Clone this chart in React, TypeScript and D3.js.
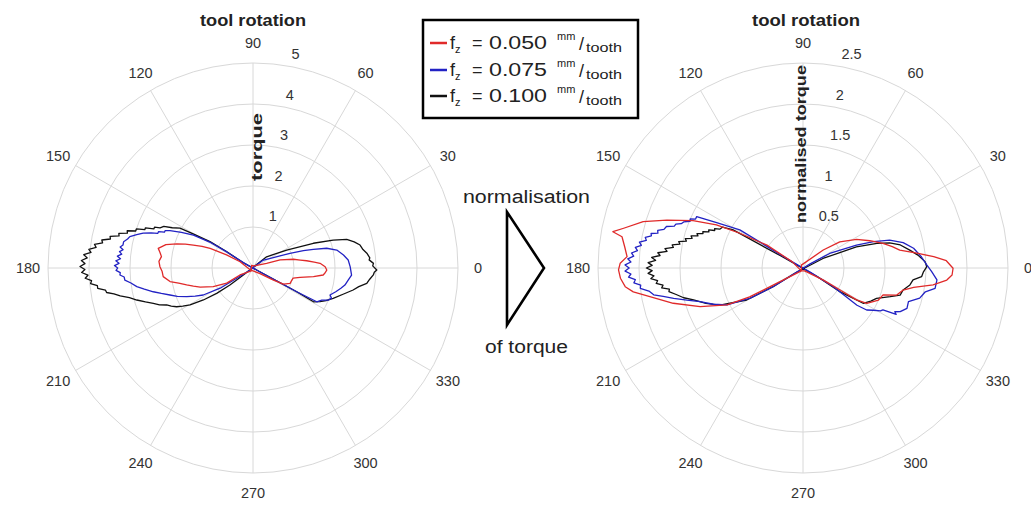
import React from "react";
import * as d3 from "d3";

type P = [number, number];

const ANGLE_TICKS = [0, 30, 60, 90, 120, 150, 180, 210, 240, 270, 300, 330];
const LEFT_RINGS = [1, 2, 3, 4, 5];
const LEFT_RING_LABELS = ["1", "2", "3", "4", "5"];
const RIGHT_RINGS = [0.5, 1, 1.5, 2, 2.5];
const RIGHT_RING_LABELS = ["0.5", "1", "1.5", "2", "2.5"];

const SERIES_NAMES = ["0.050", "0.075", "0.100"];
const SERIES_COLORS = ["#e02a2a", "#2222c4", "#111111"];

// torque [angle deg, torque]
const torque050: P[] = [
  [60, 0.06], [18.9, 0.35], [16.5, 0.69], [12.2, 1.01], [9.5, 1.17], [7.7, 1.32], [5.5, 1.5], [4, 1.64], [1, 1.76],
  [-1.6, 1.8], [-4, 1.76], [-5.7, 1.72], [-8.2, 1.49], [-11.2, 1.17], [-14.3, 1.01], [-18, 0.99], [-22.5, 0.98],
  [-27.8, 0.84], [-30.6, 0.58], [-39, 0.22], [-90, 0.07], [-140, 0.08],
  [154, 0.35], [153.7, 0.72], [155.4, 1.15], [157, 1.35], [159, 1.56], [160.5, 1.75], [162.5, 1.95], [165, 2.2],
  [168.3, 2.36], [170.5, 2.3], [172.9, 2.25], [176, 2.3], [179.2, 2.27], [182, 2.22], [185.5, 2.2], [189.3, 2.05],
  [191.5, 1.85], [194.3, 1.67], [197, 1.52], [200, 1.37], [205, 1.07], [210, 0.74], [208, 0.36], [240, 0.08], [120, 0.07],
];
const torque075: P[] = [
  [38, 0.3], [21.7, 0.97], [19, 1.3], [17.2, 1.54], [15, 1.86], [12.1, 2.09], [8.2, 2.23], [4.8, 2.33], [0.8, 2.37],
  [-4.1, 2.41], [-7.2, 2.34], [-10.5, 2.28], [-13, 2.2], [-16, 2.1], [-19.3, 1.99], [-21, 2.05], [-23, 2.0], [-25, 1.85],
  [-27.9, 1.76], [-28.5, 1.2], [-28.5, 0.6], [-29, 0.15],
  [151, 0.27], [148.5, 0.75], [149, 1.23], [151.1, 1.66], [153.5, 1.95], [155.8, 2.22], [157, 2.33], [158, 2.33], [159, 2.47],
  [160, 2.47], [161, 2.63], [162.4, 2.81], [164, 2.95], [165.7, 3.1], [167, 3.14], [168.5, 3.22], [170, 3.22], [171, 3.28],
  [172, 3.2], [173, 3.28], [174, 3.22], [175, 3.32], [176, 3.24], [177, 3.35], [178, 3.27], [179, 3.38], [180, 3.3],
  [181, 3.34], [182, 3.24], [183, 3.25], [184, 3.15], [185.4, 3.14], [187, 3.0], [189.1, 2.87], [191, 2.7], [193.4, 2.5],
  [195.5, 2.32], [198, 2.13], [200.5, 1.97], [203.4, 1.76], [206, 1.57], [208.5, 1.38], [211.6, 0.94], [212.3, 0.47], [214, 0.15],
];
const torque100: P[] = [
  [39.5, 0.43], [28, 0.93], [22.3, 1.59], [19.2, 2.07], [17, 2.39], [14.5, 2.55], [12.1, 2.67], [9.5, 2.72], [7.4, 2.8],
  [5, 2.86], [4, 2.84], [2.2, 2.94], [1, 2.92], [-0.9, 3.02], [-2, 2.96], [-3.3, 2.94], [-5.5, 2.86], [-7.7, 2.8], [-10, 2.62],
  [-12.4, 2.5], [-16, 2.3], [-20.7, 2.09], [-24, 1.95], [-26.7, 1.83], [-29.2, 1.69], [-28.5, 1.2], [-28.5, 0.6], [-29, 0.15],
  [151.4, 0.27], [148.2, 0.75], [148.5, 1.23], [150.3, 1.68], [151.3, 2.03], [153.5, 2.2], [155, 2.4], [156.6, 2.47],
  [157.5, 2.6], [158.5, 2.6], [159.5, 2.8], [160.5, 2.8], [161.5, 3.0], [162.5, 3.0], [163.5, 3.2], [164.5, 3.18],
  [165.5, 3.38], [166.5, 3.36], [167.5, 3.57], [168.5, 3.55], [169.5, 3.75], [170.5, 3.72], [171.5, 3.91], [172.5, 3.86],
  [173.5, 4.03], [174.5, 3.97], [175.5, 4.14], [176.5, 4.05], [177.5, 4.19], [178.5, 4.1], [179.5, 4.22], [180.5, 4.1],
  [181.5, 4.18], [182.5, 4.03], [183.5, 4.1], [184.5, 3.95], [185.5, 3.98], [186.5, 3.82], [187.5, 3.82], [188.5, 3.64],
  [189.5, 3.62], [190.5, 3.45], [191.9, 3.31], [193.5, 3.1], [195.4, 2.94], [197.5, 2.75], [199.5, 2.58], [201.5, 2.45],
  [203.2, 2.29], [205, 2.2], [206.9, 2.09], [208.5, 1.95], [210.4, 1.78], [212.8, 1.44], [214.9, 1.08], [216.5, 0.7], [215.8, 0.29],
];

// normalised torque [angle deg, normalised torque]
const normTorque050: P[] = [
  [41.6, 0.33], [35.4, 0.55], [28.1, 0.74], [22.2, 0.88], [17.1, 1.02], [13.5, 1.12], [10.5, 1.2], [7.4, 1.4], [5, 1.6],
  [2.9, 1.75], [-0.1, 1.83], [-2.7, 1.82], [-4.8, 1.76], [-7.4, 1.6], [-9.9, 1.37], [-12.4, 1.25], [-16.1, 1.19],
  [-18.6, 1.03], [-23, 1.0], [-29, 0.89], [-30.8, 0.76], [-30.7, 0.52], [-30.6, 0.29], [-60, 0.04], [-120, 0.04],
  [150, 0.15], [147.6, 0.52], [151.2, 0.88], [153.5, 1.18], [156.7, 1.46], [160.6, 1.76], [163.8, 2.03], [167.5, 2.24],
  [169.2, 2.36], [170.2, 2.24], [173.2, 2.19], [176.3, 2.15], [178.5, 2.23], [180.6, 2.25], [183.2, 2.23], [186, 2.18],
  [188, 2.09], [190.6, 1.9], [195.2, 1.64], [200.6, 1.34], [205.9, 1.03], [208.4, 0.74], [209.8, 0.42], [215, 0.15],
  [240, 0.04], [120, 0.04],
];
const normTorque075: P[] = [
  [30, 0.1], [28.6, 0.37], [23.2, 0.71], [20.5, 0.92], [17.8, 1.11], [14.2, 1.26], [10.1, 1.37], [5.4, 1.45], [1.4, 1.51],
  [-1.6, 1.57], [-5.1, 1.64], [-8.8, 1.63], [-11, 1.52], [-14.5, 1.47], [-17.7, 1.35], [-21.2, 1.36], [-24.2, 1.3],
  [-25.5, 1.24], [-26.5, 1.27], [-27.6, 1.1], [-29, 1.08], [-31, 1.0], [-33.4, 0.93], [-34.6, 0.8], [-31.7, 0.43], [-30, 0.1],
  [150, 0.15], [148.9, 0.9], [152.3, 1.19], [154.2, 1.44], [155.5, 1.44], [156.5, 1.5], [157.5, 1.49], [158.9, 1.56],
  [160, 1.58], [161, 1.64], [162, 1.65], [163.1, 1.74], [164.5, 1.76], [165.5, 1.83], [166.5, 1.82], [167.2, 1.9],
  [168, 1.89], [169, 1.96], [170, 1.94], [171, 2.02], [172, 1.99], [173, 2.06], [174, 2.03], [175, 2.1], [176, 2.07],
  [177, 2.14], [178, 2.1], [179, 2.17], [180, 2.12], [181, 2.17], [182, 2.1], [183, 2.13], [184, 2.05], [185, 2.07],
  [186, 1.99], [187.1, 2.0], [188.5, 1.9], [190.2, 1.85], [191.5, 1.74], [193.2, 1.62], [195.5, 1.47], [198.1, 1.32],
  [202, 1.18], [205.9, 1.03], [209.8, 0.74], [212.2, 0.43], [213, 0.1],
];
const normTorque100: P[] = [
  [25.5, 0.27], [21.6, 0.7], [18.5, 0.95], [16.2, 1.1], [13.3, 1.22], [9.5, 1.32], [6.4, 1.41], [3, 1.49], [0.6, 1.51],
  [-1.8, 1.47], [-4.2, 1.45], [-6.2, 1.35], [-9, 1.32], [-12.4, 1.25], [-15.6, 1.23], [-18.2, 1.12], [-22.4, 0.97],
  [-26, 0.92], [-30.4, 0.85], [-32.6, 0.54], [-31, 0.2],
  [151.4, 0.3], [151.4, 0.97], [153, 1.1], [155, 1.12], [156, 1.18], [157, 1.17], [158, 1.24], [159, 1.23], [160, 1.3],
  [161, 1.29], [162, 1.36], [163, 1.34], [164, 1.42], [165, 1.4], [166, 1.48], [167, 1.46], [168, 1.55], [169, 1.53],
  [170, 1.62], [171, 1.6], [172, 1.7], [173, 1.67], [174, 1.78], [175, 1.75], [176, 1.85], [177, 1.8], [178, 1.89],
  [179, 1.84], [180, 1.91], [181, 1.84], [182, 1.89], [183, 1.82], [184, 1.86], [185, 1.78], [186, 1.8], [187, 1.72],
  [188, 1.74], [189, 1.65], [190, 1.66], [191.8, 1.58], [194, 1.5], [196.3, 1.39], [200, 1.26], [204, 1.11], [209.6, 0.79],
  [212, 0.43], [213, 0.1],
];

const FONT = "Arial, 'Liberation Sans', sans-serif";
const toRad = (deg: number) => (deg * Math.PI) / 180;

interface PolarProps {
  cx: number;
  cy: number;
  radius: number;
  rings: number[];
  ringLabels: string[];
  series: P[][];
  rLabel: string;
  rLabelX: number;
  rLabelY: number;
  rLabelLen: number;
  titleLen: number;
  titleX: number;
}

function PolarChart(p: PolarProps) {
  const maxR = p.rings[p.rings.length - 1];
  const r = d3.scaleLinear().domain([0, maxR]).range([0, p.radius]);
  const line = d3
    .lineRadial<P>()
    .angle((d) => toRad(90 - d[0]))
    .radius((d) => r(d[1]))
    .curve(d3.curveLinearClosed);
  const grid = "#d8d8d8";
  const order = [2, 1, 0];
  return (
    <g>
      <g transform={`translate(${p.cx},${p.cy})`}>
        {p.rings.map((v) => (
          <circle key={v} r={r(v)} fill="none" stroke={grid} strokeWidth={1} />
        ))}
        {ANGLE_TICKS.map((a) => (
          <line
            key={a}
            x1={0}
            y1={0}
            x2={p.radius * Math.cos(toRad(a))}
            y2={-p.radius * Math.sin(toRad(a))}
            stroke={grid}
            strokeWidth={1}
          />
        ))}
        {ANGLE_TICKS.map((a) => (
          <text
            key={"t" + a}
            x={225 * Math.cos(toRad(a))}
            y={-225 * Math.sin(toRad(a))}
            textAnchor="middle"
            dominantBaseline="central"
            fontFamily={FONT}
            fontSize={14.5}
            fill="#333"
          >
            {a}
          </text>
        ))}
        {p.rings.map((v, i) => (
          <text
            key={"r" + v}
            x={r(v) * Math.cos(toRad(82)) + 10}
            y={-r(v) * Math.sin(toRad(82)) - 11}
            textAnchor="start"
            dominantBaseline="central"
            fontFamily={FONT}
            fontSize={14.5}
            fill="#333"
          >
            {p.ringLabels[i]}
          </text>
        ))}
        {order.map((i) => (
          <path
            key={"s" + i}
            d={line(p.series[i]) || ""}
            fill="none"
            stroke={SERIES_COLORS[i]}
            strokeWidth={1.3}
            strokeLinejoin="round"
          />
        ))}
      </g>
      <text
        x={p.titleX}
        y={26}
        textAnchor="middle"
        fontFamily={FONT}
        fontWeight="bold"
        fontSize={16}
        fill="#222"
        textLength={p.titleLen}
        lengthAdjust="spacingAndGlyphs"
      >
        tool rotation
      </text>
      <text
        transform={`translate(${p.rLabelX},${p.rLabelY}) rotate(-90)`}
        textAnchor="middle"
        fontFamily={FONT}
        fontWeight="bold"
        fontSize={14}
        fill="#222"
        textLength={p.rLabelLen}
        lengthAdjust="spacingAndGlyphs"
      >
        {p.rLabel}
      </text>
    </g>
  );
}

function Legend() {
  const rows = [49, 76, 102];
  return (
    <g fontFamily={FONT} fill="#222">
      <rect x={423} y={20} width={215} height={98} fill="#fff" stroke="#000" strokeWidth={2.5} />
      {SERIES_NAMES.map((name, i) => (
        <g key={name}>
          <line x1={430} x2={447} y1={rows[i] - 6} y2={rows[i] - 6} stroke={SERIES_COLORS[i]} strokeWidth={2.5} />
          <text x={450} y={rows[i]} fontSize={18}>f</text>
          <text x={455} y={rows[i] + 4} fontSize={11}>z</text>
          <text x={472} y={rows[i]} fontSize={18}>=</text>
          <text x={489} y={rows[i]} fontSize={18} textLength={58} lengthAdjust="spacingAndGlyphs">
            {name}
          </text>
          <text x={557} y={rows[i] - 9} fontSize={11}>mm</text>
          <text x={579} y={rows[i] + 1} fontSize={18}>/</text>
          <text x={586} y={rows[i] + 3} fontSize={12} textLength={36} lengthAdjust="spacingAndGlyphs">
            tooth
          </text>
        </g>
      ))}
    </g>
  );
}

export default function App() {
  return (
    <svg
      width={1031}
      height={506}
      style={{ position: "absolute", left: 0, top: 0, background: "#fff" }}
    >
      <rect width={1031} height={506} fill="#fff" />
      <PolarChart
        cx={253}
        cy={268}
        radius={205}
        rings={LEFT_RINGS}
        ringLabels={LEFT_RING_LABELS}
        series={[torque050, torque075, torque100]}
        rLabel="torque"
        rLabelX={262}
        rLabelY={147}
        rLabelLen={68}
        titleLen={106}
        titleX={253}
      />
      <PolarChart
        cx={803}
        cy={268}
        radius={205}
        rings={RIGHT_RINGS}
        ringLabels={RIGHT_RING_LABELS}
        series={[normTorque050, normTorque075, normTorque100]}
        rLabel="normalised torque"
        rLabelX={806}
        rLabelY={144}
        rLabelLen={158}
        titleLen={108}
        titleX={806}
      />
      <Legend />
      <g fontFamily={FONT} fill="#222">
        <text x={463} y={203} fontSize={18} textLength={127} lengthAdjust="spacingAndGlyphs">
          normalisation
        </text>
        <path d="M507,212 L544,268 L507,325 Z" fill="none" stroke="#000" strokeWidth={2.6} strokeLinejoin="miter" />
        <text x={485} y={353} fontSize={18} textLength={83} lengthAdjust="spacingAndGlyphs">
          of torque
        </text>
      </g>
    </svg>
  );
}
